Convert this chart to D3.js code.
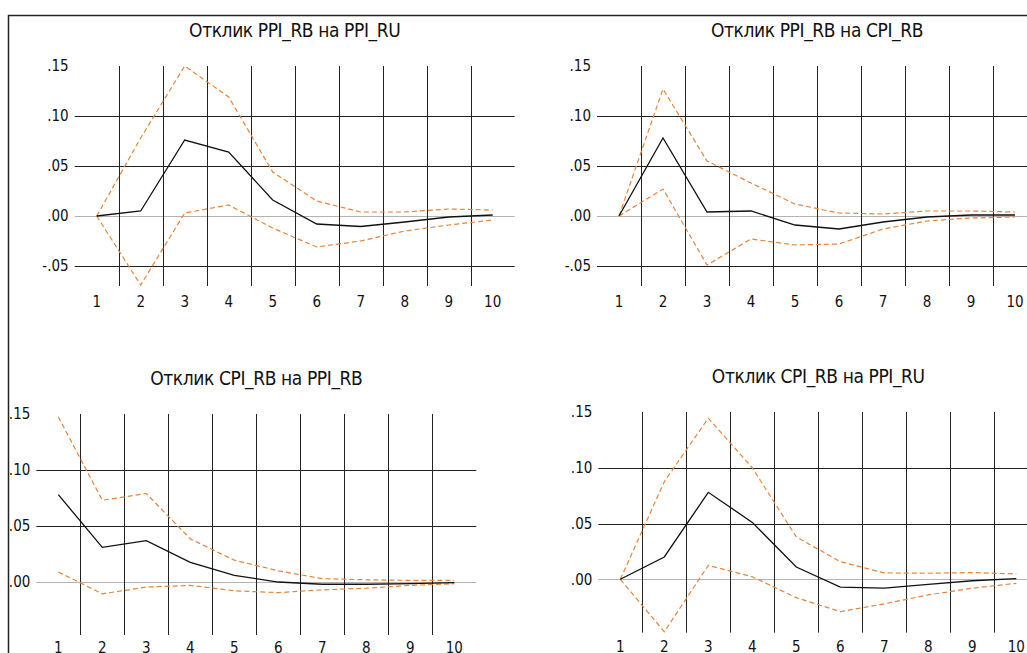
<!DOCTYPE html>
<html>
<head>
<meta charset="utf-8">
<script src="https://cdn.jsdelivr.net/npm/d3@7"></script>
<style>
  html, body { margin: 0; padding: 0; background: #fff; }
  svg { display: block; }
  text { font-family: "DejaVu Sans Condensed", "DejaVu Sans", sans-serif; fill: #111; }
</style>
</head>
<body>
<div id="chart"></div>
<script>
// horizon of the impulse responses
const steps = [1, 2, 3, 4, 5, 6, 7, 8, 9, 10];
const yTicks = [0.15, 0.10, 0.05, 0.00, -0.05];

// Отклик PPI_RB на PPI_RU
const resp1  = [0.000, 0.005, 0.076, 0.064, 0.016, -0.008, -0.0105, -0.006, -0.001, 0.001];
const upper1 = [0.000, 0.078, 0.150, 0.119, 0.044, 0.015, 0.004, 0.004, 0.007, 0.006];
const lower1 = [0.000, -0.069, 0.003, 0.011, -0.012, -0.031, -0.025, -0.015, -0.009, -0.004];

// Отклик PPI_RB на CPI_RB
const resp2  = [0.000, 0.078, 0.004, 0.005, -0.009, -0.013, -0.006, -0.001, 0.001, 0.001];
const upper2 = [0.000, 0.127, 0.055, 0.033, 0.012, 0.003, 0.002, 0.005, 0.005, 0.004];
const lower2 = [0.000, 0.027, -0.049, -0.023, -0.029, -0.028, -0.013, -0.005, -0.002, -0.001];

// Отклик CPI_RB на PPI_RB
const resp3  = [0.078, 0.031, 0.037, 0.0175, 0.006, 0.000, -0.002, -0.002, -0.0015, -0.0005];
const upper3 = [0.1475, 0.073, 0.079, 0.0385, 0.0195, 0.010, 0.003, 0.002, 0.0015, 0.0015];
const lower3 = [0.009, -0.0105, -0.0045, -0.003, -0.0078, -0.0095, -0.007, -0.0055, -0.003, -0.0015];

// Отклик CPI_RB на PPI_RU
const resp4  = [0.000, 0.020, 0.078, 0.051, 0.011, -0.007, -0.008, -0.0045, -0.0013, 0.0005];
const upper4 = [0.000, 0.0875, 0.1445, 0.100, 0.038, 0.0158, 0.0057, 0.0054, 0.006, 0.0048];
const lower4 = [0.000, -0.047, 0.0125, 0.0023, -0.0165, -0.029, -0.022, -0.014, -0.008, -0.0036];

// panel placement on the page (pixels) and axis range
const panels = [
  {title: "Отклик PPI_RB на PPI_RU", resp: resp1, upper: upper1, lower: lower1,
   left: 74.7, top: 66, bottom: 286, yMin: -0.07, labelGap: 21},
  {title: "Отклик PPI_RB на CPI_RB", resp: resp2, upper: upper2, lower: lower2,
   left: 597, top: 66, bottom: 286, yMin: -0.07, labelGap: 21},
  {title: "Отклик CPI_RB на PPI_RB", resp: resp3, upper: upper3, lower: lower3,
   left: 36.3, top: 414, bottom: 635, yMin: -0.0473, labelGap: 17.5},
  {title: "Отклик CPI_RB на PPI_RU", resp: resp4, upper: upper4, lower: lower4,
   left: 598.3, top: 412, bottom: 632.7, yMin: -0.0479, labelGap: 19.7}
];

const width = 1027, height = 653;
const plotW = 440;
// EViews style: ".05", "-.05"
const fmt = v => d3.format(".2f")(v).replace("−", "-").replace("0.", ".");

const svg = d3.select("#chart").append("svg")
    .attr("width", width)
    .attr("height", height);

// outer frame (cropped at the right and bottom)
svg.append("path")
    .attr("d", `M8.5,${height + 5}V15.5H${width + 5}`)
    .attr("fill", "none")
    .attr("stroke", "#222")
    .attr("stroke-width", 1.5);

panels.forEach(p => {
  const x = d3.scaleBand().domain(steps).range([p.left, p.left + plotW]);
  const cx = d => x(d) + x.bandwidth() / 2;
  const y = d3.scaleLinear().domain([p.yMin, 0.15]).range([p.bottom, p.top]);
  const g = svg.append("g");

  // horizontal grid lines (none at the top value)
  const hTicks = yTicks.filter(t => t < 0.149 && t >= p.yMin);
  g.append("g").selectAll("line")
    .data(hTicks)
    .join("line")
      .attr("x1", p.left).attr("x2", p.left + plotW)
      .attr("y1", d => Math.round(y(d)) + 0.5).attr("y2", d => Math.round(y(d)) + 0.5)
      .attr("stroke", d => d === 0 ? "#b4b4b4" : "#222")
      .attr("stroke-width", 1);

  // vertical separators between periods
  g.append("g").selectAll("line")
    .data(steps.slice(1))
    .join("line")
      .attr("x1", d => Math.round(x(d)) + 0.5).attr("x2", d => Math.round(x(d)) + 0.5)
      .attr("y1", y(0.15)).attr("y2", p.bottom)
      .attr("stroke", "#222")
      .attr("stroke-width", 1);

  // y tick labels
  g.append("g").selectAll("text")
    .data(yTicks.filter(t => t >= p.yMin))
    .join("text")
      .attr("x", p.left - 6)
      .attr("y", d => y(d))
      .attr("dy", "0.36em")
      .attr("text-anchor", "end")
      .attr("font-size", 15)
      .text(fmt);

  // x tick labels
  g.append("g").selectAll("text")
    .data(steps)
    .join("text")
      .attr("x", cx)
      .attr("y", p.bottom + p.labelGap)
      .attr("text-anchor", "middle")
      .attr("font-size", 15)
      .text(d => d);

  // title
  g.append("text")
    .attr("x", p.left + plotW / 2)
    .attr("y", p.top - 29.5)
    .attr("text-anchor", "middle")
    .attr("font-size", 19)
    .attr("letter-spacing", -0.4)
    .text(p.title);

  const line = d3.line().x((d, i) => cx(steps[i])).y(d => y(d));

  [p.upper, p.lower].forEach(band => {
    g.append("path")
      .attr("d", line(band))
      .attr("fill", "none")
      .attr("stroke", "#e8843a")
      .attr("stroke-width", 1.2)
      .attr("stroke-dasharray", "5,3");
  });

  g.append("path")
    .attr("d", line(p.resp))
    .attr("fill", "none")
    .attr("stroke", "#111")
    .attr("stroke-width", 1.3);
});
</script>
</body>
</html>
